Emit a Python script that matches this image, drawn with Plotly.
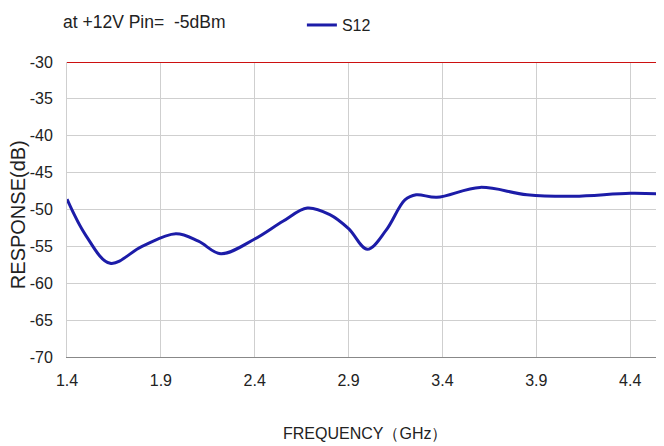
import plotly.graph_objects as go

freq_ghz = [1.4, 1.5, 1.63, 1.8, 1.98, 2.1, 2.22, 2.4, 2.55, 2.68, 2.8, 2.9, 3.0, 3.1, 3.2, 3.26, 3.37, 3.6, 3.85, 4.1, 4.4, 4.58]
s12_db = [-48.6, -53.5, -57.3, -55.0, -53.3, -54.3, -56.0, -54.0, -51.6, -49.8, -50.7, -52.6, -55.4, -52.8, -48.7, -48.0, -48.35, -47.0, -48.0, -48.2, -47.8, -47.9]
limit_db = [-30, -30]
limit_freq = [1.4, 4.58]

x_ticks = [1.4, 1.9, 2.4, 2.9, 3.4, 3.9, 4.4]
y_ticks = [-30, -35, -40, -45, -50, -55, -60, -65, -70]

font_family = "Liberation Sans, Arial, sans-serif"

fig = go.Figure()
fig.add_trace(go.Scatter(x=limit_freq, y=limit_db, mode="lines",
                         line=dict(color="#cc1010", width=2), showlegend=False, hoverinfo="skip"))
fig.add_trace(go.Scatter(x=freq_ghz, y=s12_db, mode="lines", name="S12",
                         line=dict(color="#1c1ca8", width=3, shape="spline", smoothing=1.0)))

fig.update_layout(
    width=656, height=438,
    margin=dict(l=59, r=0, t=54, b=89, autoexpand=False),
    paper_bgcolor="white", plot_bgcolor="white",
    font=dict(family=font_family, size=16, color="#222"),
    showlegend=True,
    legend=dict(xref="container", yref="container", x=0.448, y=0.961,
                xanchor="left", yanchor="middle", orientation="h",
                font=dict(size=16), bgcolor="rgba(0,0,0,0)"),
    annotations=[
        dict(text="at +12V Pin=  -5dBm", x=-0.01, y=1.136, xref="paper", yref="paper",
             xanchor="left", yanchor="middle", showarrow=False, font=dict(size=17.5)),
        dict(text="RESPONSE(dB)", x=-0.082, y=0.481, xref="paper", yref="paper",
             xanchor="center", yanchor="middle", textangle=-90, showarrow=False, font=dict(size=20)),
        dict(text="FREQUENCY（GHz）", x=0.499, y=-0.258, xref="paper", yref="paper",
             xanchor="center", yanchor="middle", showarrow=False, font=dict(size=16)),
    ],
)
fig.update_xaxes(range=[1.4, 4.58], tickvals=x_ticks, ticktext=[f"{t:.1f}" for t in x_ticks],
                 showgrid=True, gridcolor="#cfcfcf", gridwidth=1, zeroline=False,
                 showline=True, linecolor="#888", linewidth=1, ticks="", ticklen=0,
                 ticklabelstandoff=9, automargin=False)
fig.update_yaxes(range=[-70, -30], tickvals=y_ticks, ticktext=[str(t) for t in y_ticks],
                 showgrid=True, gridcolor="#cfcfcf", gridwidth=1, zeroline=False,
                 showline=True, linecolor="#cfcfcf", ticks="", ticklabelstandoff=10,
                 automargin=False)

fig.write_html("out.html")
